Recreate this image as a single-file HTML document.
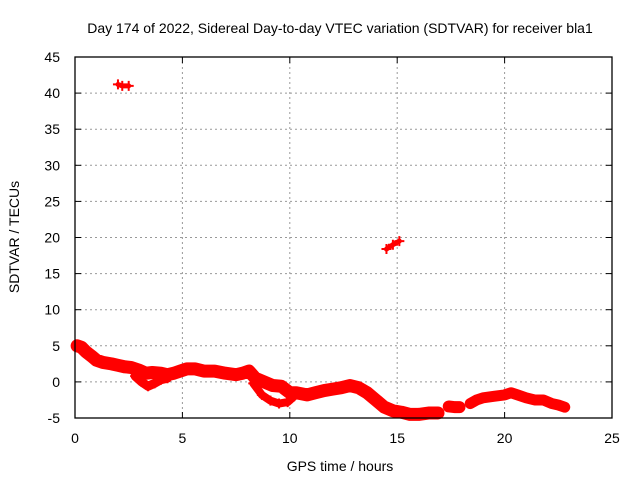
<!DOCTYPE html>
<html><head><meta charset="utf-8"><style>
html,body{margin:0;padding:0;background:#fff}
svg{display:block}
text{font-family:"Liberation Sans",sans-serif;font-size:14px;fill:#000}
</style></head><body>
<svg id="chart" width="640" height="480">
<text x="340" y="33" text-anchor="middle">Day 174 of 2022, Sidereal Day-to-day VTEC variation (SDTVAR) for receiver bla1</text>
<g id="grid"></g>
<g id="axes"></g>
<g id="marks"></g>
<rect x="75" y="57" width="537" height="361" fill="none" stroke="#000" stroke-width="1.3"/>
<text x="340" y="471" text-anchor="middle">GPS time / hours</text>
<text transform="translate(19,237) rotate(-90)" text-anchor="middle">SDTVAR / TECUs</text>
</svg>
<script>
const xTicks=[0,5,10,15,20,25];
const yTicks=[-5,0,5,10,15,20,25,30,35,40,45];
const mainT=[0.1,0.3,0.5,0.8,1.0,1.3,1.7,2.0,2.3,2.6,3.0,3.3,3.6,4.0,4.3,4.6,4.9,5.2,5.6,6.0,6.5,7.0,7.5,7.8,8.1,8.4,8.8,9.2,9.6,10.0,10.3,10.8,11.2,11.6,12.0,12.4,12.8,13.2,13.6,14.0,14.4,14.8,15.2,15.6,16.0,16.5,16.9];
const mainV=[5.0,4.8,4.2,3.5,3.0,2.7,2.5,2.3,2.1,2.0,1.6,1.2,1.3,1.2,1.0,1.2,1.5,1.8,1.8,1.5,1.5,1.2,1.0,1.2,1.5,0.5,0.0,-0.5,-0.6,-1.5,-1.5,-1.8,-1.5,-1.2,-1.0,-0.8,-0.5,-0.8,-1.5,-2.5,-3.5,-4.0,-4.2,-4.5,-4.5,-4.3,-4.3];
const lowAT=[2.8,3.1,3.4,3.7,4.0,4.3];
const lowAV=[0.8,0.0,-0.6,-0.2,0.3,0.5];
const lowBT=[8.3,8.7,9.1,9.5,9.9,10.2];
const lowBV=[-0.2,-1.8,-2.6,-3.0,-2.8,-2.0];
const seg2T=[17.4,17.7,17.9];
const seg2V=[-3.4,-3.5,-3.5];
const seg3T=[18.4,18.7,19.0,19.5,20.0,20.3,20.6,21.0,21.4,21.8,22.2,22.5,22.8];
const seg3V=[-3.0,-2.5,-2.2,-2.0,-1.8,-1.5,-1.8,-2.2,-2.5,-2.5,-3.0,-3.2,-3.5];
const out1T=[2.0,2.2,2.5];
const out1V=[41.2,41.0,41.0];
const out2T=[14.5,14.8,15.1];
const out2V=[18.4,19.0,19.5];

const X0=75,X1=612,Y0=418,Y1=57;
const xs=t=>X0+t/25*(X1-X0);
const ys=v=>Y0-(v+5)/50*(Y0-Y1);
const NS='http://www.w3.org/2000/svg';
const mk=(tag,attrs,parent)=>{const e=document.createElementNS(NS,tag);for(const k in attrs)e.setAttribute(k,attrs[k]);parent.appendChild(e);return e;};
const grid=document.getElementById('grid'),axes=document.getElementById('axes'),marks=document.getElementById('marks');
xTicks.forEach(t=>{const x=xs(t);
 if(t>0&&t<25){const l=mk('line',{x1:x,x2:x,y1:Y1,y2:Y0,stroke:'#999','stroke-dasharray':'2,3'},grid);
 
 }
 mk('line',{x1:x,x2:x,y1:Y0,y2:Y0-6,stroke:'#000'},axes);
 mk('line',{x1:x,x2:x,y1:Y1,y2:Y1+6,stroke:'#000'},axes);
 const tx=mk('text',{x:x,y:443,'text-anchor':'middle'},axes);tx.textContent=t;
 
 });
yTicks.forEach(v=>{const y=ys(v);
 if(v>-5&&v<45){const l=mk('line',{x1:X0,x2:X1,y1:y,y2:y,stroke:'#999','stroke-dasharray':'2,3'},grid);
 
 }
 mk('line',{x1:X0,x2:X0+6,y1:y,y2:y,stroke:'#000'},axes);
 mk('line',{x1:X1,x2:X1-6,y1:y,y2:y,stroke:'#000'},axes);
 const tx=mk('text',{x:60,y:y+5,'text-anchor':'end'},axes);tx.textContent=v;
 
 });
function band(T,V,w,name){
 const pts=T.map((t,i)=>xs(t)+','+ys(V[i])).join(' ');
 const p=mk('polyline',{points:pts,fill:'none',stroke:'#f00','stroke-width':w,'stroke-linejoin':'round','stroke-linecap':'round'},marks);
 
 
 T.forEach((t,i)=>{const x=xs(t),y=ys(V[i]);
  const c=mk('path',{d:`M${x-5},${y}h10M${x},${y-5}v10`,stroke:'#f00','stroke-width':2},marks);
  
  });
}
band(mainT,mainV,13,'main-series');
band(lowAT,lowAV,9,'lower-series-3h');
band(lowBT,lowBV,8,'lower-series-9h');
band(seg2T,seg2V,12,'series-segment-17h');
band(seg3T,seg3V,11,'series-segment-18-23h');
band(out1T,out1V,5,'outlier-2h');
band(out2T,out2V,5,'outlier-15h');
</script>
</body></html>
